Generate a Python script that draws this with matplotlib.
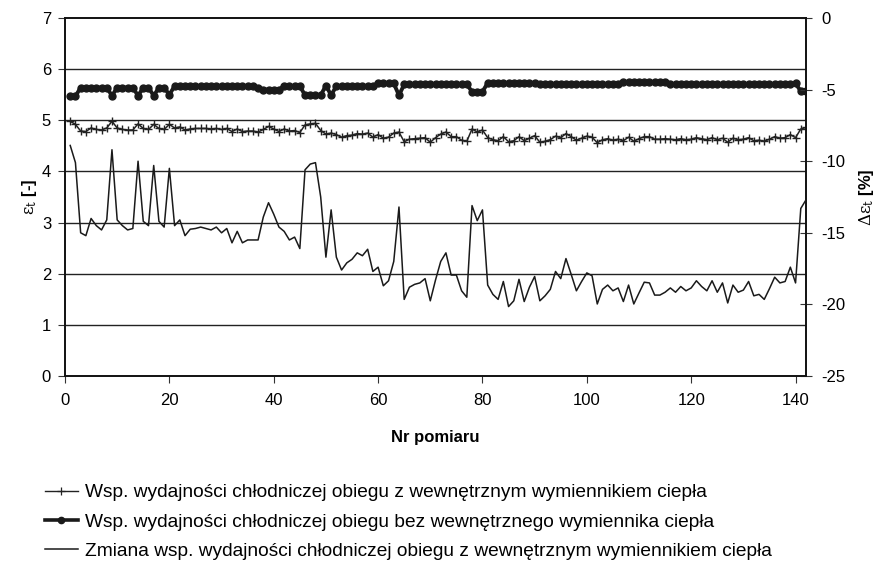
import matplotlib
matplotlib.use("Agg")
import matplotlib.pyplot as plt
from matplotlib.lines import Line2D

plt.rcParams['font.family'] = ['Liberation Sans', 'DejaVu Sans']
plt.rcParams['mathtext.fontset'] = 'dejavuserif'
plt.rcParams['axes.unicode_minus'] = False

nr = list(range(1, 143))

eps_z = [4.98, 4.92, 4.79, 4.78, 4.85, 4.82, 4.81, 4.85, 4.98, 4.85,
         4.82, 4.81, 4.81, 4.93, 4.84, 4.82, 4.92, 4.84, 4.82, 4.92,
         4.85, 4.87, 4.81, 4.83, 4.84, 4.84, 4.84, 4.83, 4.84, 4.82,
         4.84, 4.78, 4.83, 4.78, 4.79, 4.79, 4.77, 4.82, 4.88, 4.83,
         4.78, 4.83, 4.79, 4.80, 4.76, 4.91, 4.93, 4.94, 4.80, 4.73,
         4.75, 4.72, 4.67, 4.70, 4.71, 4.74, 4.73, 4.75, 4.67, 4.72,
         4.65, 4.67, 4.75, 4.77, 4.58, 4.63, 4.64, 4.65, 4.66, 4.57,
         4.66, 4.73, 4.77, 4.68, 4.68, 4.61, 4.59, 4.83, 4.77, 4.81,
         4.66, 4.62, 4.60, 4.68, 4.58, 4.60, 4.68, 4.60, 4.65, 4.70,
         4.57, 4.59, 4.62, 4.69, 4.66, 4.74, 4.68, 4.61, 4.65, 4.69,
         4.67, 4.56, 4.62, 4.64, 4.61, 4.63, 4.60, 4.67, 4.59, 4.64,
         4.68, 4.68, 4.63, 4.63, 4.64, 4.63, 4.62, 4.64, 4.62, 4.63,
         4.66, 4.64, 4.62, 4.66, 4.62, 4.65, 4.57, 4.65, 4.62, 4.63,
         4.66, 4.60, 4.61, 4.59, 4.63, 4.68, 4.65, 4.66, 4.72, 4.66,
         4.83, 4.86]

eps_bez = [5.47, 5.47, 5.64, 5.64, 5.64, 5.64, 5.64, 5.64, 5.48, 5.64,
           5.64, 5.64, 5.64, 5.48, 5.64, 5.64, 5.48, 5.64, 5.64, 5.50,
           5.67, 5.67, 5.67, 5.67, 5.67, 5.67, 5.67, 5.67, 5.67, 5.67,
           5.67, 5.67, 5.67, 5.67, 5.67, 5.67, 5.64, 5.60, 5.60, 5.60,
           5.60, 5.67, 5.67, 5.67, 5.67, 5.49, 5.49, 5.49, 5.49, 5.68,
           5.49, 5.67, 5.67, 5.67, 5.67, 5.67, 5.67, 5.67, 5.67, 5.72,
           5.72, 5.72, 5.72, 5.49, 5.70, 5.70, 5.70, 5.70, 5.70, 5.70,
           5.70, 5.70, 5.70, 5.70, 5.70, 5.70, 5.70, 5.56, 5.56, 5.56,
           5.73, 5.73, 5.73, 5.73, 5.73, 5.73, 5.73, 5.73, 5.73, 5.73,
           5.70, 5.70, 5.70, 5.70, 5.70, 5.70, 5.70, 5.70, 5.70, 5.70,
           5.70, 5.70, 5.70, 5.70, 5.70, 5.70, 5.74, 5.74, 5.74, 5.74,
           5.74, 5.74, 5.74, 5.74, 5.74, 5.71, 5.71, 5.71, 5.71, 5.71,
           5.71, 5.71, 5.71, 5.71, 5.71, 5.71, 5.71, 5.71, 5.71, 5.71,
           5.71, 5.71, 5.71, 5.71, 5.71, 5.71, 5.71, 5.71, 5.71, 5.72,
           5.57, 5.57]

delta_eps = [-8.9, -10.1, -15.0, -15.2, -14.0, -14.5, -14.8, -14.1, -9.2, -14.1,
             -14.5, -14.8, -14.7, -10.0, -14.2, -14.5, -10.3, -14.2, -14.6, -10.5,
             -14.5, -14.1, -15.2, -14.75, -14.7, -14.6, -14.7, -14.8, -14.6, -15.0,
             -14.7, -15.7, -14.9, -15.7, -15.5, -15.5, -15.5, -13.9, -12.9, -13.7,
             -14.6, -14.9, -15.5, -15.3, -16.1, -10.6, -10.2, -10.1, -12.5, -16.7,
             -13.4, -16.7, -17.6, -17.1, -16.85, -16.4, -16.6, -16.15, -17.7, -17.4,
             -18.7, -18.35, -17.0, -13.2, -19.65, -18.8, -18.6, -18.5, -18.2, -19.75,
             -18.3, -17.0, -16.4, -17.95, -17.95, -19.05, -19.5, -13.1, -14.15, -13.4,
             -18.65, -19.3, -19.65, -18.4, -20.15, -19.75, -18.25, -19.8, -18.8, -18.05,
             -19.75, -19.4, -18.95, -17.7, -18.2, -16.8, -17.9, -19.05, -18.4, -17.8,
             -18.0, -19.97, -18.95, -18.65, -19.05, -18.85, -19.8, -18.65, -19.97, -19.2,
             -18.45, -18.5, -19.35, -19.35, -19.15, -18.85, -19.15, -18.75, -19.05, -18.85,
             -18.35, -18.75, -19.05, -18.35, -19.15, -18.5, -19.9, -18.65, -19.15, -19.0,
             -18.4, -19.4, -19.3, -19.65, -18.9, -18.1, -18.5, -18.4, -17.4, -18.5,
             -13.3, -12.7]

x_ticks = [0, 20, 40, 60, 80, 100, 120, 140]
left_ticks = [0, 1, 2, 3, 4, 5, 6, 7]
right_ticks = [-25, -20, -15, -10, -5, 0]

labels = ["Wsp. wydajności chłodniczej obiegu z wewnętrznym wymiennikiem ciepła",
          "Wsp. wydajności chłodniczej obiegu bez wewnętrznego wymiennika ciepła",
          "Zmiana wsp. wydajności chłodniczej obiegu z wewnętrznym wymiennikiem ciepła"]

fig = plt.figure(figsize=(8.84, 5.67), dpi=100)
ax = fig.add_axes([65/884, 1-376/567, (806-65)/884, (376-18)/567])
ax2 = ax.twinx()

ax.set_xlim(0, 142)
ax.set_ylim(0, 7)
ax2.set_ylim(-25, 0)

for yv in left_ticks[1:-1]:
    ax.axhline(yv, color='#222222', lw=1.0, zorder=0)

l1, = ax.plot(nr, eps_z, color='#222222', lw=1.1, marker='+', ms=6, mew=1.0, zorder=3)
l2, = ax.plot(nr, eps_bez, color='#1a1a1a', lw=2.8, marker='o', ms=5, zorder=3)
l3, = ax2.plot(nr, delta_eps, color='#1a1a1a', lw=1.1, zorder=3)

ax.set_xticks(x_ticks)
ax.set_yticks(left_ticks)
ax2.set_yticks(right_ticks)
ax.tick_params(axis='x', direction='out', length=5, labelsize=12, pad=7, color='#333333')
ax.tick_params(axis='y', direction='out', length=5, labelsize=12, pad=5, color='#333333')
ax2.tick_params(axis='y', direction='inout', length=8, labelsize=12, pad=7, color='#333333')

for a in (ax, ax2):
    for s in a.spines.values():
        s.set_color('#111111')
        s.set_linewidth(1.2)

ax.set_xlabel('Nr pomiaru', fontsize=12, fontweight='bold', labelpad=16)
ax.set_ylabel(r'$\mathrm{\epsilon_t}$ [-]', fontsize=12, fontweight='bold', labelpad=2)
ax2.set_ylabel(r'$\mathrm{\Delta\epsilon_t}$ [%]', fontsize=12, fontweight='bold', labelpad=8)

h1 = Line2D([], [], color='#222222', lw=1.0, marker='+', ms=6, mew=0.9)
h2 = Line2D([], [], color='#1a1a1a', lw=2.6, marker='o', ms=4.5)
h3 = Line2D([], [], color='#1a1a1a', lw=1.1)
fig.legend([h1, h2, h3], labels, loc='upper left', bbox_to_anchor=(45/884, 1-484/567),
           frameon=False, fontsize=13.8, handlelength=1.72, handletextpad=0.36,
           labelspacing=0.62, borderpad=0, borderaxespad=0, numpoints=1)

fig.savefig('out.png', dpi=100)
